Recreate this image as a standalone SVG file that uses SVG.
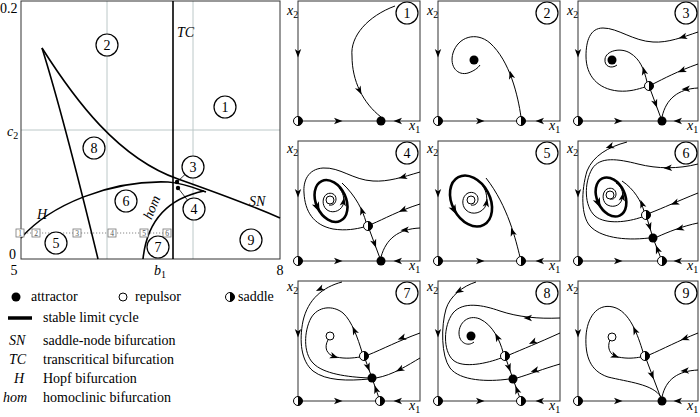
<svg xmlns="http://www.w3.org/2000/svg" width="700" height="417" viewBox="0 0 700 417">
<defs>
<style>
text{font-family:"Liberation Serif","Times New Roman",serif;font-size:14px;fill:#000}
.it{font-style:italic}
.sub{font-size:10px;font-style:normal}
.fr{fill:none;stroke:#333;stroke-width:1}
.grid{stroke:#bcc8c8;stroke-width:1}
.bc{fill:none;stroke:#000;stroke-width:1.6}
.c{fill:none;stroke:#000;stroke-width:1}
.lc{fill:none;stroke:#000;stroke-width:2.6}
.nc{fill:#fff;stroke:#000;stroke-width:1.2}
.nt{text-anchor:middle}
.sq{fill:#fff;stroke:#777;stroke-width:0.8}
.sqt{font-size:7.5px;fill:#555;text-anchor:middle}
</style>
<path id="ah" d="M4.5,0 L-4,-3.2 L-1.8,0 L-4,3.2 Z" fill="#000"/>
<circle id="att" r="4.5" fill="#000"/>
<circle id="rep" r="4" fill="#fff" stroke="#000" stroke-width="1"/>
<g id="sad"><circle r="4.5" fill="#fff" stroke="#000" stroke-width="1"/><path d="M0,-4.5 A4.5,4.5 0 0 1 0,4.5 Z" fill="#000"/></g>
</defs>
<rect width="700" height="417" fill="#fff"/>

<!-- Bifurcation diagram -->
<g id="bifurcation">
<line class="grid" x1="107" y1="1" x2="107" y2="259"/>
<line class="grid" x1="193" y1="1" x2="193" y2="259"/>
<line class="grid" x1="21" y1="130" x2="280" y2="130"/>
<rect class="fr" x="21" y="1" width="259" height="258"/>
<line x1="21" y1="233" x2="168" y2="233" stroke="#888" stroke-width="1" stroke-dasharray="1.2 1.8"/>
<g id="bif-curves">
<line class="bc" x1="173" y1="1" x2="173" y2="259"/>
<path class="bc" d="M42,48 Q63,115 98,259"/>
<path class="bc" d="M42,48 C75,100 118,158 178,179 C212,191 248,204 280,218"/>
<path class="bc" d="M21,238 C50,205 110,180 168,182 C183,183 195,188 206,192"/>
<path class="bc" d="M143,259 C146,230 160,200 204,191"/>
<line x1="177" y1="182" x2="185" y2="174.5" stroke="#000" stroke-width="0.8"/>
<line x1="178" y1="188" x2="187.4" y2="200" stroke="#000" stroke-width="0.8"/>
<circle cx="177" cy="182" r="2.2" fill="#000"/>
<circle cx="178" cy="188" r="2.2" fill="#000"/>
</g>
<g id="bif-squares">
<rect class="sq" x="16" y="229" width="8" height="8"/><text class="sqt" x="20" y="235.5">1</text>
<rect class="sq" x="32" y="229" width="8" height="8"/><text class="sqt" x="36" y="235.5">2</text>
<rect class="sq" x="73" y="229" width="8" height="8"/><text class="sqt" x="77" y="235.5">3</text>
<rect class="sq" x="108" y="229" width="8" height="8"/><text class="sqt" x="112" y="235.5">4</text>
<rect class="sq" x="140" y="229" width="8" height="8"/><text class="sqt" x="144" y="235.5">5</text>
<rect class="sq" x="163" y="229" width="8" height="8"/><text class="sqt" x="167" y="235.5">6</text>
</g>
<text class="it" x="177" y="37">TC</text>
<text class="it" x="249" y="206">SN</text>
<text class="it" x="37" y="219">H</text>
<text class="it nt" transform="translate(156,209) rotate(-68)" x="0" y="0">hom</text>
<text x="0" y="13">0.2</text>
<text class="it" x="7" y="136">c<tspan class="sub" dy="3">2</tspan></text>
<text x="9" y="259">0</text>
<text class="nt" x="14" y="275">5</text>
<text class="it" x="154" y="275">b<tspan class="sub" dy="3">1</tspan></text>
<text class="nt" x="280" y="275">8</text>
<g id="reg1"><circle class="nc" cx="225" cy="107" r="11"/><text class="nt" x="225" y="112">1</text></g>
<g id="reg2"><circle class="nc" cx="107" cy="45" r="11"/><text class="nt" x="107" y="50">2</text></g>
<g id="reg3"><circle class="nc" cx="193" cy="167" r="11"/><text class="nt" x="193" y="172">3</text></g>
<g id="reg4"><circle class="nc" cx="194" cy="209" r="11"/><text class="nt" x="194" y="214">4</text></g>
<g id="reg5"><circle class="nc" cx="56" cy="243" r="11"/><text class="nt" x="56" y="248">5</text></g>
<g id="reg6"><circle class="nc" cx="126" cy="201" r="11"/><text class="nt" x="126" y="206">6</text></g>
<g id="reg7"><circle class="nc" cx="158" cy="247" r="11"/><text class="nt" x="158" y="252">7</text></g>
<g id="reg8"><circle class="nc" cx="94" cy="148" r="11"/><text class="nt" x="94" y="153">8</text></g>
<g id="reg9"><circle class="nc" cx="251" cy="240" r="11"/><text class="nt" x="251" y="245">9</text></g>
</g>

<!-- Legend -->
<g id="legend">
<use href="#att" x="16" y="297"/><text x="31" y="301">attractor</text>
<use href="#rep" x="123" y="297"/><text x="135" y="301">repulsor</text>
<use href="#sad" x="230" y="297"/><text x="238" y="301">saddle</text>
<line x1="8" y1="318" x2="32" y2="318" stroke="#000" stroke-width="3.5"/><text x="43" y="322">stable limit cycle</text>
<text class="it" x="9" y="345">SN</text><text x="43" y="345">saddle-node bifurcation</text>
<text class="it" x="9" y="364">TC</text><text x="43" y="364">transcritical bifurcation</text>
<text class="it" x="14" y="383">H</text><text x="43" y="383">Hopf bifurcation</text>
<text class="it" x="3" y="402">hom</text><text x="43" y="402">homoclinic bifurcation</text>
</g>

<!-- Portrait 1 -->
<g id="p1" transform="translate(298,1)">
<rect class="fr" width="122" height="120"/>
<g id="p1-conn">
<path class="c" d="M97,5 C70,15 52,35 54,55 C54,80 65,102 83,116"/>
<use href="#ah" transform="translate(40,120)"/><use href="#ah" transform="translate(100,120) rotate(180)"/><use href="#ah" transform="translate(0,52) rotate(90)"/>
<use href="#ah" transform="translate(61.5,89.5) rotate(64)"/>
</g>
<g id="p1-s0"><use href="#sad" x="0" y="120"/></g>
<g id="p1-a1"><use href="#att" x="83" y="120"/></g>
<g id="p1-lab"><circle class="nc" cx="109" cy="12" r="11"/><text class="nt" x="109" y="17">1</text></g>
<text class="it" x="-11" y="14">x<tspan class="sub" dy="3">2</tspan></text>
<text class="it" x="111" y="129">x<tspan class="sub" dy="3">1</tspan></text>
</g>

<!-- Portrait 2 -->
<g id="p2" transform="translate(438,1)">
<rect class="fr" width="122" height="120"/>
<g id="p2-conn">
<path class="c" d="M83,116 C80,95 72,60 52,42 C38,30 20,36 15,52 C11,66 20,75 30,72 C36,70 40,67 42,64"/>
<use href="#ah" transform="translate(42,120)"/><use href="#ah" transform="translate(102,120) rotate(180)"/><use href="#ah" transform="translate(0,52) rotate(90)"/>
<use href="#ah" transform="translate(73,74) rotate(-105)"/>
</g>
<g id="p2-s0"><use href="#sad" x="0" y="120"/></g>
<g id="p2-s1"><use href="#sad" x="83" y="120"/></g>
<g id="p2-a1"><use href="#att" x="36" y="59"/></g>
<g id="p2-lab"><circle class="nc" cx="109" cy="12" r="11"/><text class="nt" x="109" y="17">2</text></g>
<text class="it" x="-11" y="14">x<tspan class="sub" dy="3">2</tspan></text>
<text class="it" x="111" y="129">x<tspan class="sub" dy="3">1</tspan></text>
</g>

<!-- Portrait 3 -->
<g id="p3" transform="translate(578,1)">
<rect class="fr" width="120" height="120"/>
<g id="p3-conn">
<path class="c" d="M120,31 C105,36 90,42 75,41 C55,40 40,27 25,27 C12,27 8,40 8,55 C8,75 20,88 40,90 C52,91 60,88 67,86"/>
<path class="c" d="M120,63 C100,70 85,78 75,83"/>
<path class="c" d="M69,81 C66,68 62,58 52,52 C42,46 28,50 27,58 C26,66 34,68 39,64"/>
<path class="c" d="M71,85 L84,120"/>
<path class="c" d="M120,87 C100,88 88,98 84,116"/>
<use href="#ah" transform="translate(40,120)"/><use href="#ah" transform="translate(100,120) rotate(180)"/><use href="#ah" transform="translate(0,52) rotate(90)"/>
<use href="#ah" transform="translate(105,36) rotate(163)"/>
<use href="#ah" transform="translate(104,69.5) rotate(158)"/>
<use href="#ah" transform="translate(66,70) rotate(-104)"/>
<use href="#ah" transform="translate(77.5,102.5) rotate(70)"/>
<use href="#ah" transform="translate(108,88) rotate(177)"/>
</g>
<g id="p3-s0"><use href="#sad" x="0" y="120"/></g>
<g id="p3-a1"><use href="#att" x="84" y="120"/></g>
<g id="p3-s2"><use href="#sad" x="71" y="85"/></g>
<g id="p3-a2"><use href="#att" x="34" y="59"/></g>
<g id="p3-lab"><circle class="nc" cx="108" cy="12" r="11"/><text class="nt" x="108" y="17">3</text></g>
<text class="it" x="-11" y="14">x<tspan class="sub" dy="3">2</tspan></text>
<text class="it" x="109" y="129">x<tspan class="sub" dy="3">1</tspan></text>
</g>

<!-- Portrait 4 -->
<g id="p4" transform="translate(298,141)">
<rect class="fr" width="122" height="120"/>
<g id="p4-conn">
<ellipse class="lc" cx="33" cy="60" rx="15" ry="22" transform="rotate(-25 33 60)"/>
<path class="c" d="M31,64 C35,65 38,62 38,58 C38,53 33,51 29,53 C24,56 24,64 28,68 C33,73 42,71 45,64 C47,58 45,51 41,47"/>
<path class="c" d="M122,31 C105,36 90,41 75,40 C55,39 42,26 25,27 C10,28 5,40 6,52 C7,70 15,84 35,88 C48,90 58,88 66,86"/>
<path class="c" d="M122,63 C100,70 86,78 74,83"/>
<path class="c" d="M68,81 C65,70 58,55 44,42"/>
<path class="c" d="M70,85 L83,120"/>
<path class="c" d="M122,87 C100,88 88,98 83,116"/>
<use href="#ah" transform="translate(40,120)"/><use href="#ah" transform="translate(100,120) rotate(180)"/><use href="#ah" transform="translate(0,52) rotate(90)"/>
<use href="#ah" transform="translate(19.4,66.3) rotate(65) scale(1.2)"/>
<use href="#ah" transform="translate(45.5,61) rotate(-80)"/>
<use href="#ah" transform="translate(105,36) rotate(165)"/>
<use href="#ah" transform="translate(105,69) rotate(158)"/>
<use href="#ah" transform="translate(64,70) rotate(-107)"/>
<use href="#ah" transform="translate(76.5,102.5) rotate(70)"/>
<use href="#ah" transform="translate(107,89) rotate(176)"/>
</g>
<g id="p4-s0"><use href="#sad" x="0" y="120"/></g>
<g id="p4-a1"><use href="#att" x="83" y="120"/></g>
<g id="p4-s2"><use href="#sad" x="70" y="85"/></g>
<g id="p4-r1"><use href="#rep" x="32" y="59"/></g>
<g id="p4-lab"><circle class="nc" cx="109" cy="12" r="11"/><text class="nt" x="109" y="17">4</text></g>
<text class="it" x="-11" y="12">x<tspan class="sub" dy="3">2</tspan></text>
<text class="it" x="111" y="129">x<tspan class="sub" dy="3">1</tspan></text>
</g>

<!-- Portrait 5 -->
<g id="p5" transform="translate(438,141)">
<rect class="fr" width="122" height="120"/>
<g id="p5-conn">
<ellipse class="lc" cx="33" cy="60" rx="19" ry="27" transform="rotate(-28 33 60)"/>
<path class="c" d="M33,64 C37,65 40,62 40,58 C40,53 35,50 30,52 C24,55 23,64 28,69 C34,75 45,72 48,64 C50,56 48,47 42,42"/>
<path class="c" d="M82,116 C78,100 70,65 48,37"/>
<use href="#ah" transform="translate(42,120)"/><use href="#ah" transform="translate(102,120) rotate(180)"/><use href="#ah" transform="translate(0,52) rotate(90)"/>
<use href="#ah" transform="translate(16.2,69) rotate(62) scale(1.2)"/>
<use href="#ah" transform="translate(48.5,62) rotate(-80)"/>
<use href="#ah" transform="translate(74.5,91) rotate(-108)"/>
</g>
<g id="p5-s0"><use href="#sad" x="0" y="120"/></g>
<g id="p5-s1"><use href="#sad" x="83" y="120"/></g>
<g id="p5-r1"><use href="#rep" x="33" y="59"/></g>
<g id="p5-lab"><circle class="nc" cx="109" cy="12" r="11"/><text class="nt" x="109" y="17">5</text></g>
<text class="it" x="-11" y="12">x<tspan class="sub" dy="3">2</tspan></text>
<text class="it" x="111" y="129">x<tspan class="sub" dy="3">1</tspan></text>
</g>

<!-- Portrait 6 -->
<g id="p6" transform="translate(578,141)">
<rect class="fr" width="120" height="120"/>
<g id="p6-conn">
<ellipse class="lc" cx="33" cy="56" rx="14" ry="20.5" transform="rotate(-25 33 56)"/>
<path class="c" d="M32,58 C36,59 38,56 38,53 C38,48 33,46 29,48 C24,51 24,59 28,63 C33,67 42,66 44,58 C46,51 43,45 38,42"/>
<path class="c" d="M49,1 C30,6 15,15 9,30 C3,50 3,75 12,85 C22,96 45,100 71,97"/>
<path class="c" d="M120,23 C100,28 80,28 60,23 C40,18 22,15 14,28 C6,42 6,65 17,75 C28,84 50,81 64,76"/>
<path class="c" d="M120,52 C100,60 85,67 72,72"/>
<path class="c" d="M120,82 C105,85 90,91 79,96"/>
<path class="c" d="M66,70 C63,60 56,48 44,40"/>
<path class="c" d="M68,74 L75,97"/>
<path class="c" d="M84,120 L75,97"/>
<use href="#ah" transform="translate(40,120)"/><use href="#ah" transform="translate(100,120) rotate(180)"/><use href="#ah" transform="translate(0,52) rotate(90)"/>
<use href="#ah" transform="translate(20.3,62) rotate(65) scale(1.2)"/>
<use href="#ah" transform="translate(44.5,56) rotate(-80)"/>
<use href="#ah" transform="translate(32,5.5) rotate(160)"/>
<use href="#ah" transform="translate(90,27) rotate(176)"/>
<use href="#ah" transform="translate(97,62) rotate(158)"/>
<use href="#ah" transform="translate(102,87.5) rotate(165)"/>
<use href="#ah" transform="translate(64,63) rotate(-110)"/>
<use href="#ah" transform="translate(71.5,85.5) rotate(73)"/>
<use href="#ah" transform="translate(79.5,108.5) rotate(-111)"/>
</g>
<g id="p6-s0"><use href="#sad" x="0" y="120"/></g>
<g id="p6-s1"><use href="#sad" x="84" y="120"/></g>
<g id="p6-a1"><use href="#att" x="75" y="97"/></g>
<g id="p6-s2"><use href="#sad" x="68" y="74"/></g>
<g id="p6-r1"><use href="#rep" x="32" y="54"/></g>
<g id="p6-lab"><circle class="nc" cx="108" cy="12" r="11"/><text class="nt" x="108" y="17">6</text></g>
<text class="it" x="-11" y="12">x<tspan class="sub" dy="3">2</tspan></text>
<text class="it" x="109" y="129">x<tspan class="sub" dy="3">1</tspan></text>
</g>

<!-- Portrait 7 -->
<g id="p7" transform="translate(298,281)">
<rect class="fr" width="122" height="120"/>
<g id="p7-conn">
<path class="c" d="M44,1 C25,6 10,18 5,40 C1,60 3,80 15,90 C28,100 50,100 71,98"/>
<path class="c" d="M64,71 C60,58 54,40 45,32 C35,24 20,25 13,37 C6,50 5,72 15,82 C25,93 50,96 71,97"/>
<path class="c" d="M30,59 C26,66 28,74 38,76 C48,78 55,77 62,76"/>
<path class="c" d="M122,52 C100,60 85,68 70,74"/>
<path class="c" d="M122,77 C110,84 95,94 78,97"/>
<path class="c" d="M66,75 L74,97"/>
<path class="c" d="M82,120 L74,97"/>
<use href="#ah" transform="translate(40,120)"/><use href="#ah" transform="translate(100,120) rotate(180)"/><use href="#ah" transform="translate(0,52) rotate(90)"/>
<use href="#ah" transform="translate(22,8) rotate(155)"/>
<use href="#ah" transform="translate(56.4,49.6) rotate(-114)"/>
<use href="#ah" transform="translate(36,75.5) rotate(20)"/>
<use href="#ah" transform="translate(104,57) rotate(160)"/>
<use href="#ah" transform="translate(102,88.5) rotate(153)"/>
<use href="#ah" transform="translate(70,86) rotate(70)"/>
<use href="#ah" transform="translate(78,108.5) rotate(-109)"/>
</g>
<g id="p7-s0"><use href="#sad" x="0" y="120"/></g>
<g id="p7-s1"><use href="#sad" x="82" y="120"/></g>
<g id="p7-a1"><use href="#att" x="74" y="97"/></g>
<g id="p7-s2"><use href="#sad" x="66" y="75"/></g>
<g id="p7-r1"><use href="#rep" x="32" y="55"/></g>
<g id="p7-lab"><circle class="nc" cx="109" cy="12" r="11"/><text class="nt" x="109" y="17">7</text></g>
<text class="it" x="-11" y="10">x<tspan class="sub" dy="3">2</tspan></text>
<text class="it" x="111" y="129">x<tspan class="sub" dy="3">1</tspan></text>
</g>

<!-- Portrait 8 -->
<g id="p8" transform="translate(438,281)">
<rect class="fr" width="122" height="120"/>
<g id="p8-conn">
<path class="c" d="M38,1 C25,5 12,15 8,28 C3,45 3,75 12,87 C22,100 50,101 71,98"/>
<path class="c" d="M122,37 C100,38 80,36 62,30 C45,24 25,20 15,32 C5,45 5,70 15,79 C25,88 50,82 63,77"/>
<path class="c" d="M65,71 C62,60 55,44 42,38 C30,33 21,42 21,52 C21,62 30,66 36,61"/>
<path class="c" d="M122,52 C100,62 85,68 71,74"/>
<path class="c" d="M122,83 C105,88 92,93 79,97"/>
<path class="c" d="M67,75 L75,98"/>
<path class="c" d="M83,120 L75,98"/>
<use href="#ah" transform="translate(42,120)"/><use href="#ah" transform="translate(102,120) rotate(180)"/><use href="#ah" transform="translate(0,52) rotate(90)"/>
<use href="#ah" transform="translate(21,10) rotate(150)"/>
<use href="#ah" transform="translate(90,37) rotate(180)"/>
<use href="#ah" transform="translate(59.3,56.3) rotate(-117)"/>
<use href="#ah" transform="translate(95,61) rotate(155)"/>
<use href="#ah" transform="translate(97,89.5) rotate(163)"/>
<use href="#ah" transform="translate(71,86.5) rotate(71)"/>
<use href="#ah" transform="translate(79,109) rotate(-110)"/>
</g>
<g id="p8-s0"><use href="#sad" x="0" y="120"/></g>
<g id="p8-s1"><use href="#sad" x="83" y="120"/></g>
<g id="p8-a1"><use href="#att" x="33" y="55"/></g>
<g id="p8-s2"><use href="#sad" x="67" y="75"/></g>
<g id="p8-a2"><use href="#att" x="75" y="98"/></g>
<g id="p8-lab"><circle class="nc" cx="109" cy="12" r="11"/><text class="nt" x="109" y="17">8</text></g>
<text class="it" x="-11" y="10">x<tspan class="sub" dy="3">2</tspan></text>
<text class="it" x="111" y="129">x<tspan class="sub" dy="3">1</tspan></text>
</g>

<!-- Portrait 9 -->
<g id="p9" transform="translate(578,281)">
<rect class="fr" width="120" height="120"/>
<g id="p9-conn">
<path class="c" d="M65,71 C60,55 52,30 35,26 C18,22 9,38 8,55 C7,75 12,90 30,96 C50,101 75,103 83,116"/>
<path class="c" d="M32,59 C29,66 31,74 40,76 C50,78 57,77 63,76"/>
<path class="c" d="M120,52 C100,60 85,68 71,74"/>
<path class="c" d="M67,75 L84,120"/>
<path class="c" d="M120,89 C100,90 88,98 84,116"/>
<use href="#ah" transform="translate(40,120)"/><use href="#ah" transform="translate(100,120) rotate(180)"/><use href="#ah" transform="translate(0,52) rotate(90)"/>
<use href="#ah" transform="translate(57,49.5) rotate(-114)"/>
<use href="#ah" transform="translate(37,75) rotate(22)"/>
<use href="#ah" transform="translate(107,57.5) rotate(160)"/>
<use href="#ah" transform="translate(74,94) rotate(69)"/>
<use href="#ah" transform="translate(107,89.8) rotate(176)"/>
</g>
<g id="p9-s0"><use href="#sad" x="0" y="120"/></g>
<g id="p9-a1"><use href="#att" x="84" y="120"/></g>
<g id="p9-s2"><use href="#sad" x="67" y="75"/></g>
<g id="p9-r1"><use href="#rep" x="34" y="56"/></g>
<g id="p9-lab"><circle class="nc" cx="108" cy="12" r="11"/><text class="nt" x="108" y="17">9</text></g>
<text class="it" x="-11" y="10">x<tspan class="sub" dy="3">2</tspan></text>
<text class="it" x="109" y="129">x<tspan class="sub" dy="3">1</tspan></text>
</g>
</svg>
